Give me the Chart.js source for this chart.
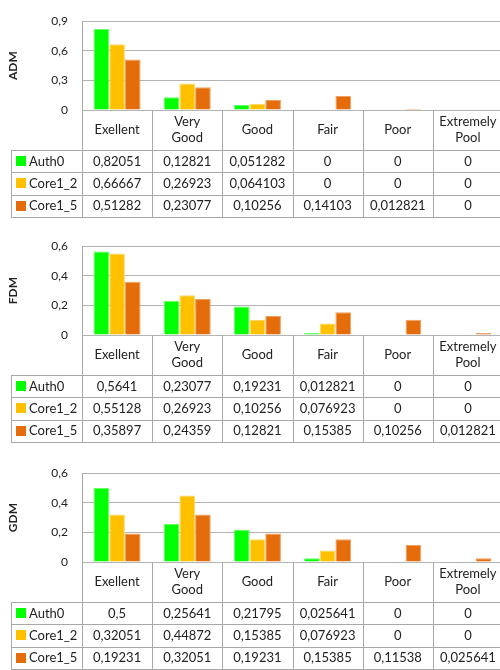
<!DOCTYPE html>
<html>
<head>
<meta charset="utf-8">
<script src="https://cdn.jsdelivr.net/npm/chart.js@4/dist/chart.umd.min.js"></script>
<style>
  body { margin: 0; width: 500px; height: 670px; overflow: hidden; background: #fff; position: relative; }
  .panel { position: absolute; left: 0; width: 503px; height: 225px; }
</style>
</head>
<body>
<div class="panel" style="top:0px"><canvas id="adm" width="503" height="225"></canvas></div>
<div class="panel" style="top:225px"><canvas id="fdm" width="503" height="225"></canvas></div>
<div class="panel" style="top:452px"><canvas id="gdm" width="503" height="225"></canvas></div>
<script>
const categories = ['Exellent', ['Very', 'Good'], 'Good', 'Fair', 'Poor', ['Extremely', 'Pool']];
const seriesNames = ['Auth0', 'Core1_2', 'Core1_5'];
const seriesColors = ['#00ff00', '#ffc000', '#e46c0a'];
const seriesBorders = ['#66ff66', '#ffd966', '#f0a060'];

// ADM
const admAuth0 = [0.82051, 0.12821, 0.051282, 0, 0, 0];
const admCore1_2 = [0.66667, 0.26923, 0.064103, 0, 0, 0];
const admCore1_5 = [0.51282, 0.23077, 0.10256, 0.14103, 0.012821, 0];
// FDM
const fdmAuth0 = [0.5641, 0.23077, 0.19231, 0.012821, 0, 0];
const fdmCore1_2 = [0.55128, 0.26923, 0.10256, 0.076923, 0, 0];
const fdmCore1_5 = [0.35897, 0.24359, 0.12821, 0.15385, 0.10256, 0.012821];
// GDM
const gdmAuth0 = [0.5, 0.25641, 0.21795, 0.025641, 0, 0];
const gdmCore1_2 = [0.32051, 0.44872, 0.15385, 0.076923, 0, 0];
const gdmCore1_5 = [0.19231, 0.32051, 0.19231, 0.15385, 0.11538, 0.025641];

Chart.defaults.font.family = 'Lato';
Chart.defaults.color = '#222';

const lineColor = '#a8a8a8';
const headerH = 40;
const rowH = 22.3;

function fmt(v) {
  return String(v).replace('.', ',');
}

// draws the data table under the plot, using the x scale for the columns
const tablePlugin = {
  id: 'dataTable',
  afterDraw(chart) {
    const ctx = chart.ctx;
    const xs = chart.scales.x;
    const area = chart.chartArea;
    const n = chart.data.labels.length;
    const w = xs.width / n;
    const top = area.bottom;
    const rowsTop = top + headerH;
    const bottom = rowsTop + rowH * chart.data.datasets.length;
    const tableLeft = 11;

    ctx.save();
    ctx.strokeStyle = lineColor;
    ctx.lineWidth = 1;
    ctx.beginPath();
    for (let i = 0; i <= n; i++) {
      const x = Math.round(xs.getPixelForValue(i) - w / 2) + 0.5;
      ctx.moveTo(x, top);
      ctx.lineTo(x, bottom);
    }
    ctx.moveTo(tableLeft + 0.5, rowsTop);
    ctx.lineTo(tableLeft + 0.5, bottom);
    for (let r = 0; r <= chart.data.datasets.length; r++) {
      const y = Math.round(rowsTop + r * rowH) + 0.5;
      ctx.moveTo(tableLeft, y);
      ctx.lineTo(xs.right + 1, y);
    }
    ctx.stroke();

    ctx.font = '13px Lato';
    ctx.fillStyle = '#222';
    ctx.textAlign = 'center';
    ctx.textBaseline = 'middle';
    chart.data.labels.forEach((lab, i) => {
      const x = xs.getPixelForValue(i);
      const lines = Array.isArray(lab) ? lab : [lab];
      const mid = top + headerH / 2;
      lines.forEach((t, k) => {
        ctx.fillText(t, x, mid + (k - (lines.length - 1) / 2) * 16);
      });
    });

    chart.data.datasets.forEach((ds, r) => {
      const yMid = rowsTop + r * rowH + rowH / 2;
      ctx.fillStyle = ds.backgroundColor;
      ctx.fillRect(16, Math.round(yMid - 5), 10, 10);
      ctx.fillStyle = '#222';
      ctx.textAlign = 'left';
      ctx.fillText(ds.label, 29, yMid + 0.5);
      ctx.textAlign = 'center';
      ds.data.forEach((v, i) => {
        ctx.fillText(fmt(v), xs.getPixelForValue(i), yMid + 0.5);
      });
    });
    ctx.restore();
  }
};

function makeChart(id, title, values, max, step) {
  new Chart(document.getElementById(id), {
    type: 'bar',
    data: {
      labels: categories,
      datasets: values.map((d, i) => ({
        label: seriesNames[i],
        data: d,
        backgroundColor: seriesColors[i],
        borderColor: seriesBorders[i],
        borderWidth: 1,
        minBarLength: 0,
        categoryPercentage: 0.67,
        barPercentage: 1.0
      }))
    },
    options: {
      responsive: false,
      animation: false,
      layout: {
        padding: { top: 13, bottom: 115, left: 0, right: 0 }
      },
      plugins: {
        legend: { display: false },
        tooltip: { enabled: false }
      },
      scales: {
        x: {
          display: false
        },
        y: {
          min: 0,
          max: max,
          afterFit(scale) { scale.width = 82; },
          ticks: {
            stepSize: step,
            padding: 14,
            font: { size: 12 },
            color: '#222',
            callback: v => v === 0 ? '0' : v.toFixed(1).replace('.', ',')
          },
          grid: { color: '#b4b4b4', drawTicks: false },
          border: { display: true, color: lineColor },
          title: {
            display: true,
            text: title,
            font: { size: 12, weight: 'bold' },
            color: '#222',
            padding: { top: 6, bottom: 0 }
          }
        }
      }
    },
    plugins: [tablePlugin]
  });
}

makeChart('adm', 'ADM', [admAuth0, admCore1_2, admCore1_5], 0.9, 0.3);
makeChart('fdm', 'FDM', [fdmAuth0, fdmCore1_2, fdmCore1_5], 0.6, 0.2);
makeChart('gdm', 'GDM', [gdmAuth0, gdmCore1_2, gdmCore1_5], 0.6, 0.2);
</script>
</body>
</html>
